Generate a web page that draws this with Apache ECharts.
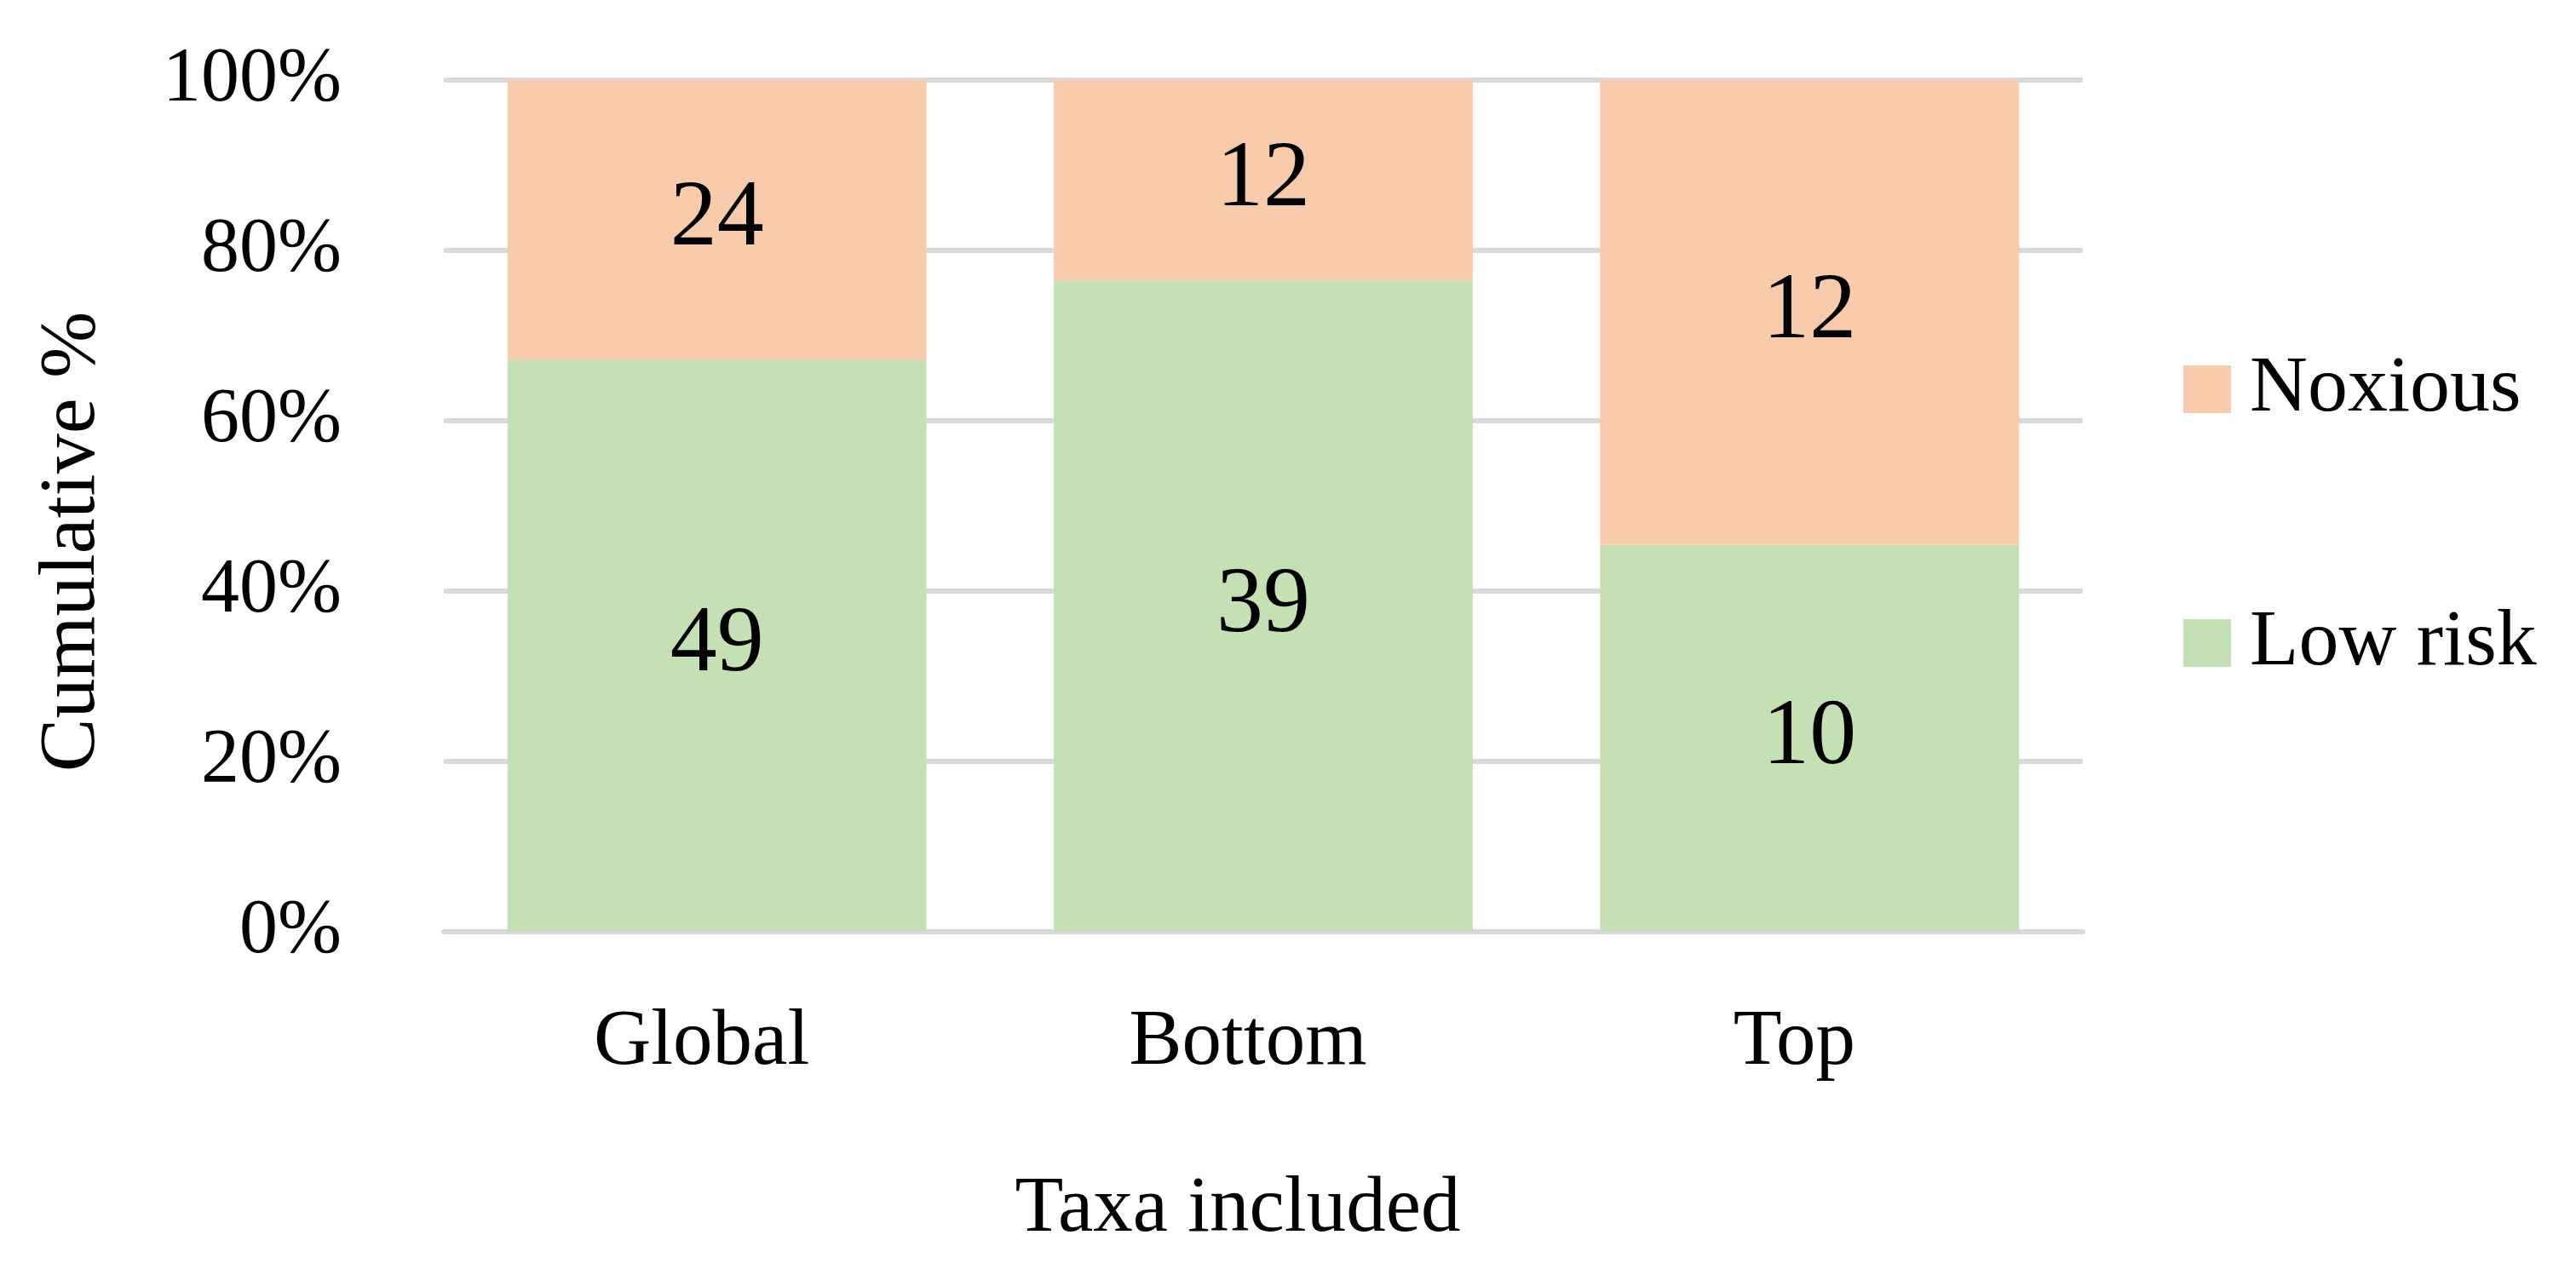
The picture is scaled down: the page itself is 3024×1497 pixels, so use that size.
<!DOCTYPE html>
<html>
<head>
<meta charset="utf-8">
<script src="https://cdn.jsdelivr.net/npm/echarts@6/dist/echarts.min.js"></script>
<style>html,body{margin:0;padding:0;background:#fff;}#c{width:3024px;height:1497px;}</style>
</head>
<body>
<div id="c"></div>
<script>
const categories = ['Global', 'Bottom', 'Top'];
const lowRisk = [49, 39, 10];
const noxious = [24, 12, 12];
const yTicks = [0, 20, 40, 60, 80, 100];

const totals = categories.map((c, i) => lowRisk[i] + noxious[i]);
const lowPct = lowRisk.map((v, i) => v / totals[i] * 100);
const noxPct = noxious.map((v, i) => v / totals[i] * 100);

const FONT = '"Liberation Serif", "Times New Roman", serif';
const chart = echarts.init(document.getElementById('c'));
chart.setOption({
  animation: false,
  backgroundColor: '#ffffff',
  textStyle: { fontFamily: FONT, color: '#000' },
  grid: { left: 521, right: 579, top: 94, bottom: 403, containLabel: false, outerBoundsMode: 'none' },
  legend: {
    orient: 'vertical',
    left: 2558,
    top: 405,
    itemWidth: 56,
    itemHeight: 56,
    itemGap: 204,
    icon: 'rect',
    data: ['Noxious', 'Low risk'],
    textStyle: { fontFamily: FONT, fontSize: 94, color: '#000', padding: [0, 0, 0, 17] }
  },
  xAxis: {
    type: 'category',
    data: categories,
    name: 'Taxa included',
    nameLocation: 'middle',
    nameGap: 280,
    nameTextStyle: { fontFamily: FONT, fontSize: 93, color: '#000', padding: [0, 60, 0, 0] },
    axisLine: { show: true, lineStyle: { color: '#d9d9d9', width: 6 } },
    axisTick: { show: false },
    axisLabel: { fontFamily: FONT, fontSize: 93, color: '#000', margin: 84, padding: [0, 36, 0, 0] }
  },
  yAxis: {
    type: 'value',
    min: yTicks[0],
    max: yTicks[yTicks.length - 1],
    interval: 20,
    name: 'Cumulative %',
    nameLocation: 'middle',
    nameGap: 389,
    nameTextStyle: { fontFamily: FONT, fontSize: 94, color: '#000', padding: [0, 84, 0, 0] },
    axisLine: { show: false },
    axisTick: { show: false },
    splitLine: { show: true, lineStyle: { color: '#d9d9d9', width: 6 } },
    axisLabel: { fontFamily: FONT, fontSize: 90, color: '#000', margin: 120, formatter: '{value}%' }
  },
  series: [
    {
      name: 'Low risk',
      type: 'bar',
      stack: 'total',
      barWidth: '76.7%',
      data: lowPct,
      itemStyle: { color: '#C5E0B4' },
      label: {
        show: true, position: 'inside', fontFamily: FONT, fontSize: 110, color: '#000',
        formatter: p => String(lowRisk[p.dataIndex])
      }
    },
    {
      name: 'Noxious',
      type: 'bar',
      stack: 'total',
      barWidth: '76.7%',
      data: noxPct,
      itemStyle: { color: '#F8CBAD' },
      label: {
        show: true, position: 'inside', fontFamily: FONT, fontSize: 110, color: '#000',
        formatter: p => String(noxious[p.dataIndex])
      }
    }
  ]
});
</script>
</body>
</html>
